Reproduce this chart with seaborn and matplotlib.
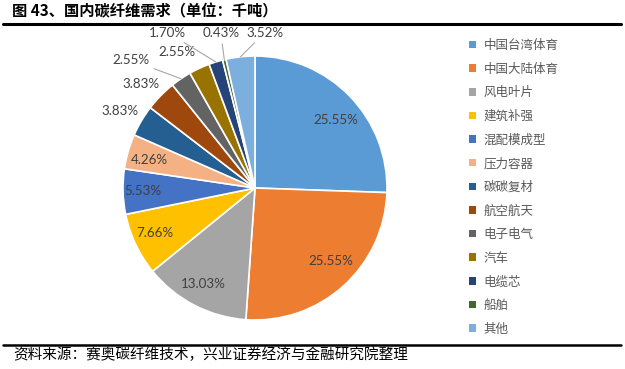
import numpy as np
import matplotlib.pyplot as plt
import seaborn as sns
from matplotlib.patches import Patch
from matplotlib.lines import Line2D

# 国内碳纤维需求占比（%）
categories = ['中国台湾体育', '中国大陆体育', '风电叶片', '建筑补强', '混配模成型', '压力容器',
              '碳碳复材', '航空航天', '电子电气', '汽车', '电缆芯', '船舶', '其他']
shares = [25.55, 25.55, 13.03, 7.66, 5.53, 4.26, 3.83, 3.83, 2.55, 2.55, 1.70, 0.43, 3.52]
pct_labels = ['%.2f%%' % v for v in shares]

title = '图 43、国内碳纤维需求（单位：千吨）'
source = '资料来源：赛奥碳纤维技术，兴业证券经济与金融研究院整理'

sns.set_theme(style="white")
plt.rcParams['font.family'] = ['Noto Sans CJK SC', 'DejaVu Sans']

palette = sns.color_palette(['#5B9BD5', '#ED7D31', '#A5A5A5', '#FFC000', '#4472C4', '#F4B183',
                             '#255E91', '#9E480E', '#636363', '#997300', '#264478', '#43682B',
                             '#7CAFDD'])

# label placement: (radius in pie radii, angle offset in deg, leader line?)
label_place = [(0.80, -4, False), (0.80, 4, False), (0.83, -1, False), (0.83, -1, False),
               (0.85, 0, False), (0.83, 1, False), (1.18, 1, False), (1.17, 2, False),
               (1.35, 10, True), (1.19, 5, False), (1.35, 12, True), (1.20, -1, True),
               (1.18, -10, True)]

W, H = 625, 369
cx, cy, R = 255, 188, 132
lim = 1.45
side = 2 * lim * R

fig = plt.figure(figsize=(W / 100, H / 100), dpi=100)
ax = fig.add_axes([(cx - side / 2) / W, (H - cy - side / 2) / H, side / W, side / H])
wedges, _ = ax.pie(shares, colors=palette, startangle=90, counterclock=False, radius=1,
                   wedgeprops=dict(edgecolor='white', linewidth=1.2))
ax.set_xlim(-lim, lim)
ax.set_ylim(-lim, lim)
ax.set_aspect('equal')
ax.axis('off')

lab_font = dict(fontsize=9.6, color='#404040', family=['Lato', 'DejaVu Sans'])
for w, txt, (r, dang, leader) in zip(wedges, pct_labels, label_place):
    mid = np.deg2rad((w.theta1 + w.theta2) / 2)
    ang = mid + np.deg2rad(dang)
    tx, ty = r * np.cos(ang), r * np.sin(ang)
    if leader:
        ex, ey = np.cos(mid), np.sin(mid)
        ax.annotate(txt, xy=(ex, ey), xytext=(tx, ty), ha='center', va='center',
                    annotation_clip=False,
                    arrowprops=dict(arrowstyle='-', color='#A6A6A6', lw=0.8,
                                    shrinkA=1, shrinkB=0), **lab_font)
    else:
        ax.text(tx, ty, txt, ha='center', va='center', **lab_font)

handles = [Patch(facecolor=c, edgecolor='none') for c in palette]
fig.legend(handles, categories, loc='upper left', bbox_to_anchor=(469 / W, 1 - 39 / H),
           frameon=False, fontsize=9, handlelength=0.55, handleheight=0.55,
           handletextpad=0.6, labelspacing=0.85, borderpad=0, borderaxespad=0,
           labelcolor='#595959')

fig.text(12 / W, 1 - 11 / H, title, fontsize=11, fontweight='heavy', color='black',
         ha='left', va='center')
fig.add_artist(Line2D([3 / W, 621 / W], [1 - 23.5 / H] * 2, color='black', lw=2.2))
fig.add_artist(Line2D([3 / W, 621 / W], [1 - 344.5 / H] * 2, color='black', lw=1.8))
fig.text(13 / W, 1 - 355 / H, source, fontsize=10.5, color='black', ha='left', va='center')

fig.savefig('out.png', dpi=100)
